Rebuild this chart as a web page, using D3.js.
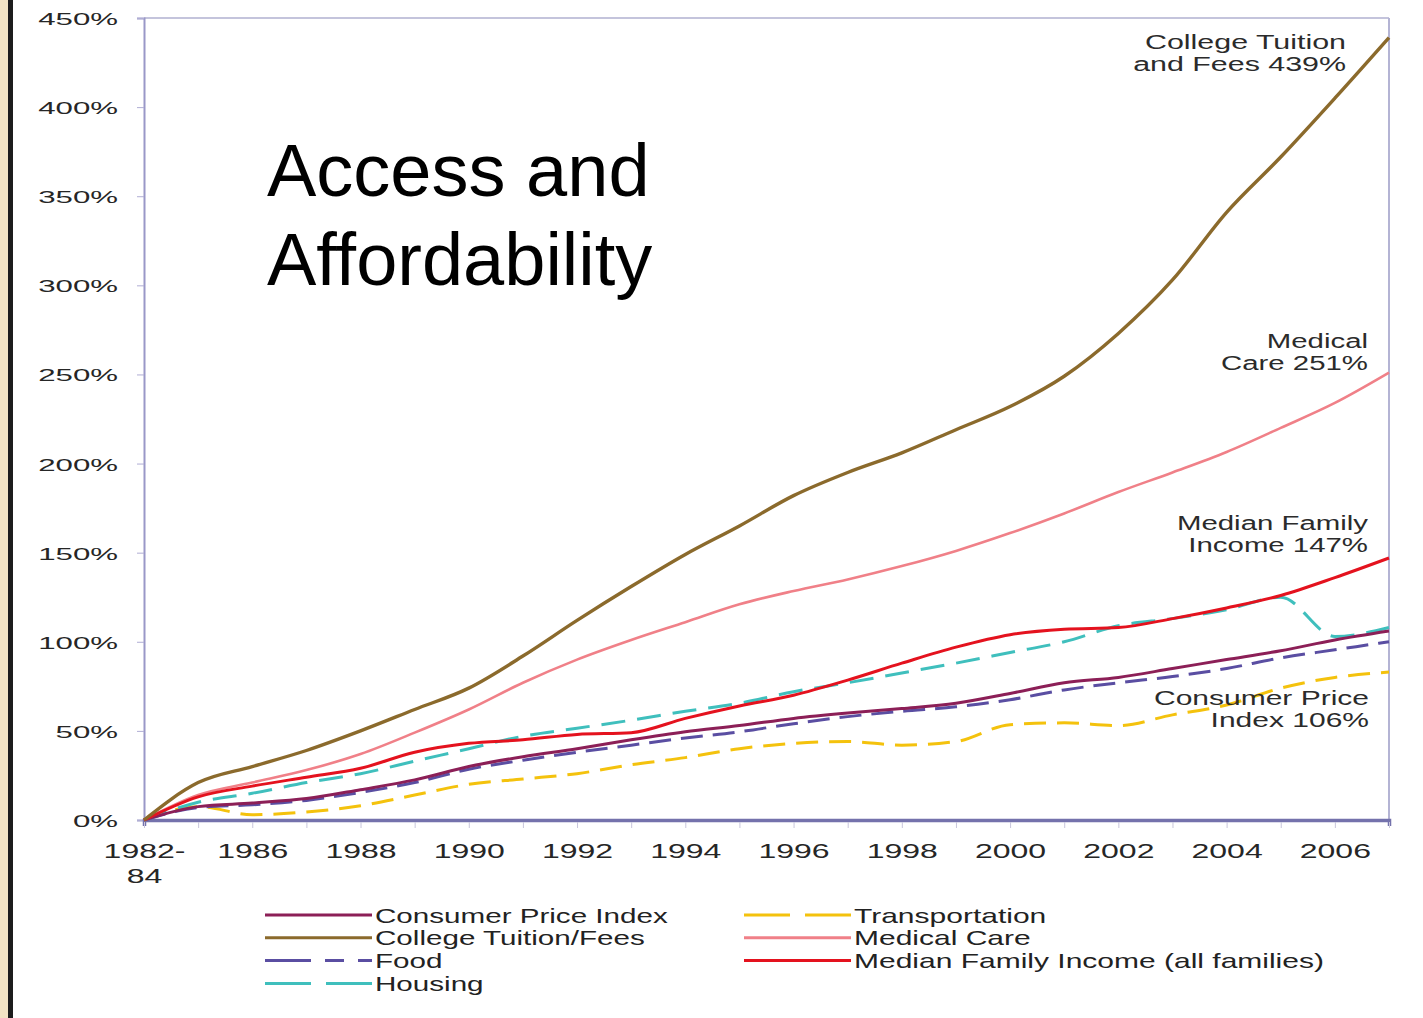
<!DOCTYPE html>
<html>
<head>
<meta charset="utf-8">
<title>Access and Affordability</title>
<script src="https://d3js.org/d3.v7.min.js"></script>
<style>
  body { margin: 0; background: #ffffff; }
  text { font-family: "Liberation Sans", Arial, sans-serif; }
</style>
</head>
<body>
<script>
  // data (% change since 1982-84)
  var years = [1984, 1985, 1986, 1987, 1988, 1989, 1990, 1991, 1992, 1993, 1994, 1995,
               1996, 1997, 1998, 1999, 2000, 2001, 2002, 2003, 2004, 2005, 2006, 2007];
  var labelYears = [1984, 1986, 1988, 1990, 1992, 1994, 1996, 1998, 2000, 2002, 2004, 2006];
  var yTicks = [0, 50, 100, 150, 200, 250, 300, 350, 400, 450];

  var cpi       = [0, 7.5, 9.5, 12, 17, 22.5, 30, 35.5, 40, 45, 49.5, 53, 57, 60, 62.5, 65.5, 71, 77, 80, 85, 90, 95, 101, 106];
  var tuition   = [0, 21, 30, 39, 50, 62, 74, 92, 112, 131, 149, 165, 182, 195, 206, 219, 232, 249, 273, 303, 341, 372, 405, 439];
  var food      = [0, 7, 8.5, 11, 15.5, 21, 28.5, 33.5, 38, 42, 46, 49.5, 54, 58, 61, 63.5, 67.5, 73, 77, 80.5, 85, 91, 95.5, 100];
  var housing   = [0, 10, 15, 21, 26, 33, 40, 47, 51.5, 56, 61, 65.5, 72, 77, 82.5, 88, 94, 100, 109, 113, 118, 125, 103, 108];
  var transport = [0, 7.5, 3, 4.5, 8, 14, 20, 23, 26, 31, 35, 40, 43, 44, 42, 44, 53.5, 54.5, 53, 59, 64.5, 74, 80, 83];
  var medical   = [0, 14, 21, 28, 37, 49, 62, 77, 90, 101, 111, 121, 128.5, 135, 142.5, 151, 161, 172, 184, 195, 206.5, 220, 234, 251];
  var income    = [0, 13, 19, 24, 29, 38, 43, 45, 48, 49, 57, 64, 70, 78.5, 88, 97, 104, 107, 108, 113, 119, 126, 136, 147];

  var width = 1423, height = 1018;

  var svg = d3.select("body").append("svg")
      .attr("width", width)
      .attr("height", height);

  // slide edge on the left
  svg.append("rect").attr("x", 0).attr("y", 0).attr("width", 8).attr("height", height).attr("fill", "#f3e3c4");
  svg.append("rect").attr("x", 8).attr("y", 0).attr("width", 5).attr("height", height).attr("fill", "#1c1c1c");

  var x = d3.scaleLinear().domain([1984, 2007]).range([144, 1389]);
  var y = d3.scaleLinear().domain([0, 450]).range([820, 18]);

  // stretched text, like the scanned original
  function wideText(parent, tx, ty, str, size, sx, anchor) {
    return parent.append("text")
      .attr("transform", "translate(" + tx + "," + ty + ") scale(" + sx + ",1)")
      .attr("text-anchor", anchor)
      .attr("font-size", size)
      .attr("fill", "#262626")
      .text(str);
  }

  // frame
  svg.append("line").attr("x1", 144).attr("x2", 1389).attr("y1", y(450)).attr("y2", y(450))
     .attr("stroke", "#c4c4dc").attr("stroke-width", 2);
  svg.append("line").attr("x1", x(2007)).attr("x2", x(2007)).attr("y1", 18).attr("y2", 820)
     .attr("stroke", "#b4b4d4").attr("stroke-width", 2);

  // y axis
  var yAxis = svg.append("g")
      .attr("transform", "translate(144,0)")
      .call(d3.axisLeft(y).tickValues(yTicks).tickSize(7).tickFormat(function(d) { return d + "%"; }));
  yAxis.select(".domain").attr("stroke", "#9a98c8").attr("stroke-width", 2);
  yAxis.selectAll(".tick line").attr("stroke", "#b0aed4");
  yAxis.selectAll(".tick text").remove();
  yAxis.selectAll(".tick").each(function(d) {
    wideText(d3.select(this), -26, 6.5, d + "%", 16, 1.95, "end");
  });

  // x axis
  var xAxis = svg.append("g")
      .attr("transform", "translate(0,820)")
      .call(d3.axisBottom(x).tickValues(years).tickSize(6).tickFormat(""));
  xAxis.select(".domain").attr("stroke", "#7472ac").attr("stroke-width", 3.5);
  xAxis.selectAll(".tick line").attr("stroke", "#c8c6dc").attr("transform", "translate(0,2)");
  xAxis.selectAll(".tick").filter(function(d) { return labelYears.indexOf(d) >= 0; })
    .each(function(d) {
      var g = d3.select(this);
      if (d === 1984) {
        wideText(g, 0, 38, "1982-", 20, 1.6, "middle");
        wideText(g, 0, 63, "84", 20, 1.6, "middle");
      } else {
        wideText(g, 0, 38, String(d), 20, 1.6, "middle");
      }
    });

  // series
  var series = [
    { name: "Transportation", values: transport, color: "#f4c20d", w: 3, dash: "22,11" },
    { name: "Food", values: food, color: "#5a4ea2", w: 3, dash: "22,10" },
    { name: "Housing", values: housing, color: "#3fbfbd", w: 3, dash: "24,12" },
    { name: "Consumer Price Index", values: cpi, color: "#8c1f57", w: 3, dash: null },
    { name: "Medical Care", values: medical, color: "#f08088", w: 2.6, dash: null },
    { name: "Median Family Income (all families)", values: income, color: "#e4121e", w: 3, dash: null },
    { name: "College Tuition/Fees", values: tuition, color: "#8b6a2c", w: 3.4, dash: null }
  ];

  var line = d3.line()
      .x(function(d, i) { return x(years[i]); })
      .y(function(d) { return y(d); })
      .curve(d3.curveMonotoneX);

  svg.append("g").selectAll("path")
    .data(series)
    .enter().append("path")
      .attr("d", function(d) { return line(d.values); })
      .attr("fill", "none")
      .attr("stroke", function(d) { return d.color; })
      .attr("stroke-width", function(d) { return d.w; })
      .attr("stroke-dasharray", function(d) { return d.dash; })
      .attr("stroke-linejoin", "round");

  // end labels
  var notes = [
    { lines: ["College Tuition", "and Fees 439%"], x: 1346, y: 49, sx: 1.52 },
    { lines: ["Medical", "Care 251%"], x: 1368, y: 348, sx: 1.47 },
    { lines: ["Median Family", "Income 147%"], x: 1368, y: 530, sx: 1.47 },
    { lines: ["Consumer Price", "Index 106%"], x: 1369, y: 705, sx: 1.5 }
  ];
  notes.forEach(function(n) {
    n.lines.forEach(function(s, k) {
      wideText(svg, n.x, n.y + k * 22, s, 20, n.sx, "end").attr("fill", "#2b2b2b");
    });
  });

  // title
  var title = svg.append("text")
      .attr("x", 267)
      .attr("font-size", 74)
      .attr("fill", "#000");
  title.append("tspan").attr("x", 267).attr("y", 196).text("Access and");
  title.append("tspan").attr("x", 267).attr("y", 285).text("Affordability");

  // legend
  var legendItems = [
    { s: series[3], col: 0, row: 0 },
    { s: series[6], col: 0, row: 1 },
    { s: series[1], col: 0, row: 2, dash: "46,14,19,14" },
    { s: series[2], col: 0, row: 3, dash: "46,15" },
    { s: series[0], col: 1, row: 0, dash: "46,15" },
    { s: series[4], col: 1, row: 1 },
    { s: series[5], col: 1, row: 2 }
  ];
  var colX = [265, 744];
  var legend = svg.append("g");
  legendItems.forEach(function(it) {
    var lx = colX[it.col], ly = 915 + it.row * 22.8;
    legend.append("line")
      .attr("x1", lx).attr("x2", lx + 107)
      .attr("y1", ly).attr("y2", ly)
      .attr("stroke", it.s.color)
      .attr("stroke-width", 3)
      .attr("stroke-dasharray", it.dash || null);
    wideText(legend, lx + 110, ly + 7.5, it.s.name, 20, it.col === 1 ? 1.5 : 1.48, "start").attr("fill", "#222");
  });
</script>
</body>
</html>
